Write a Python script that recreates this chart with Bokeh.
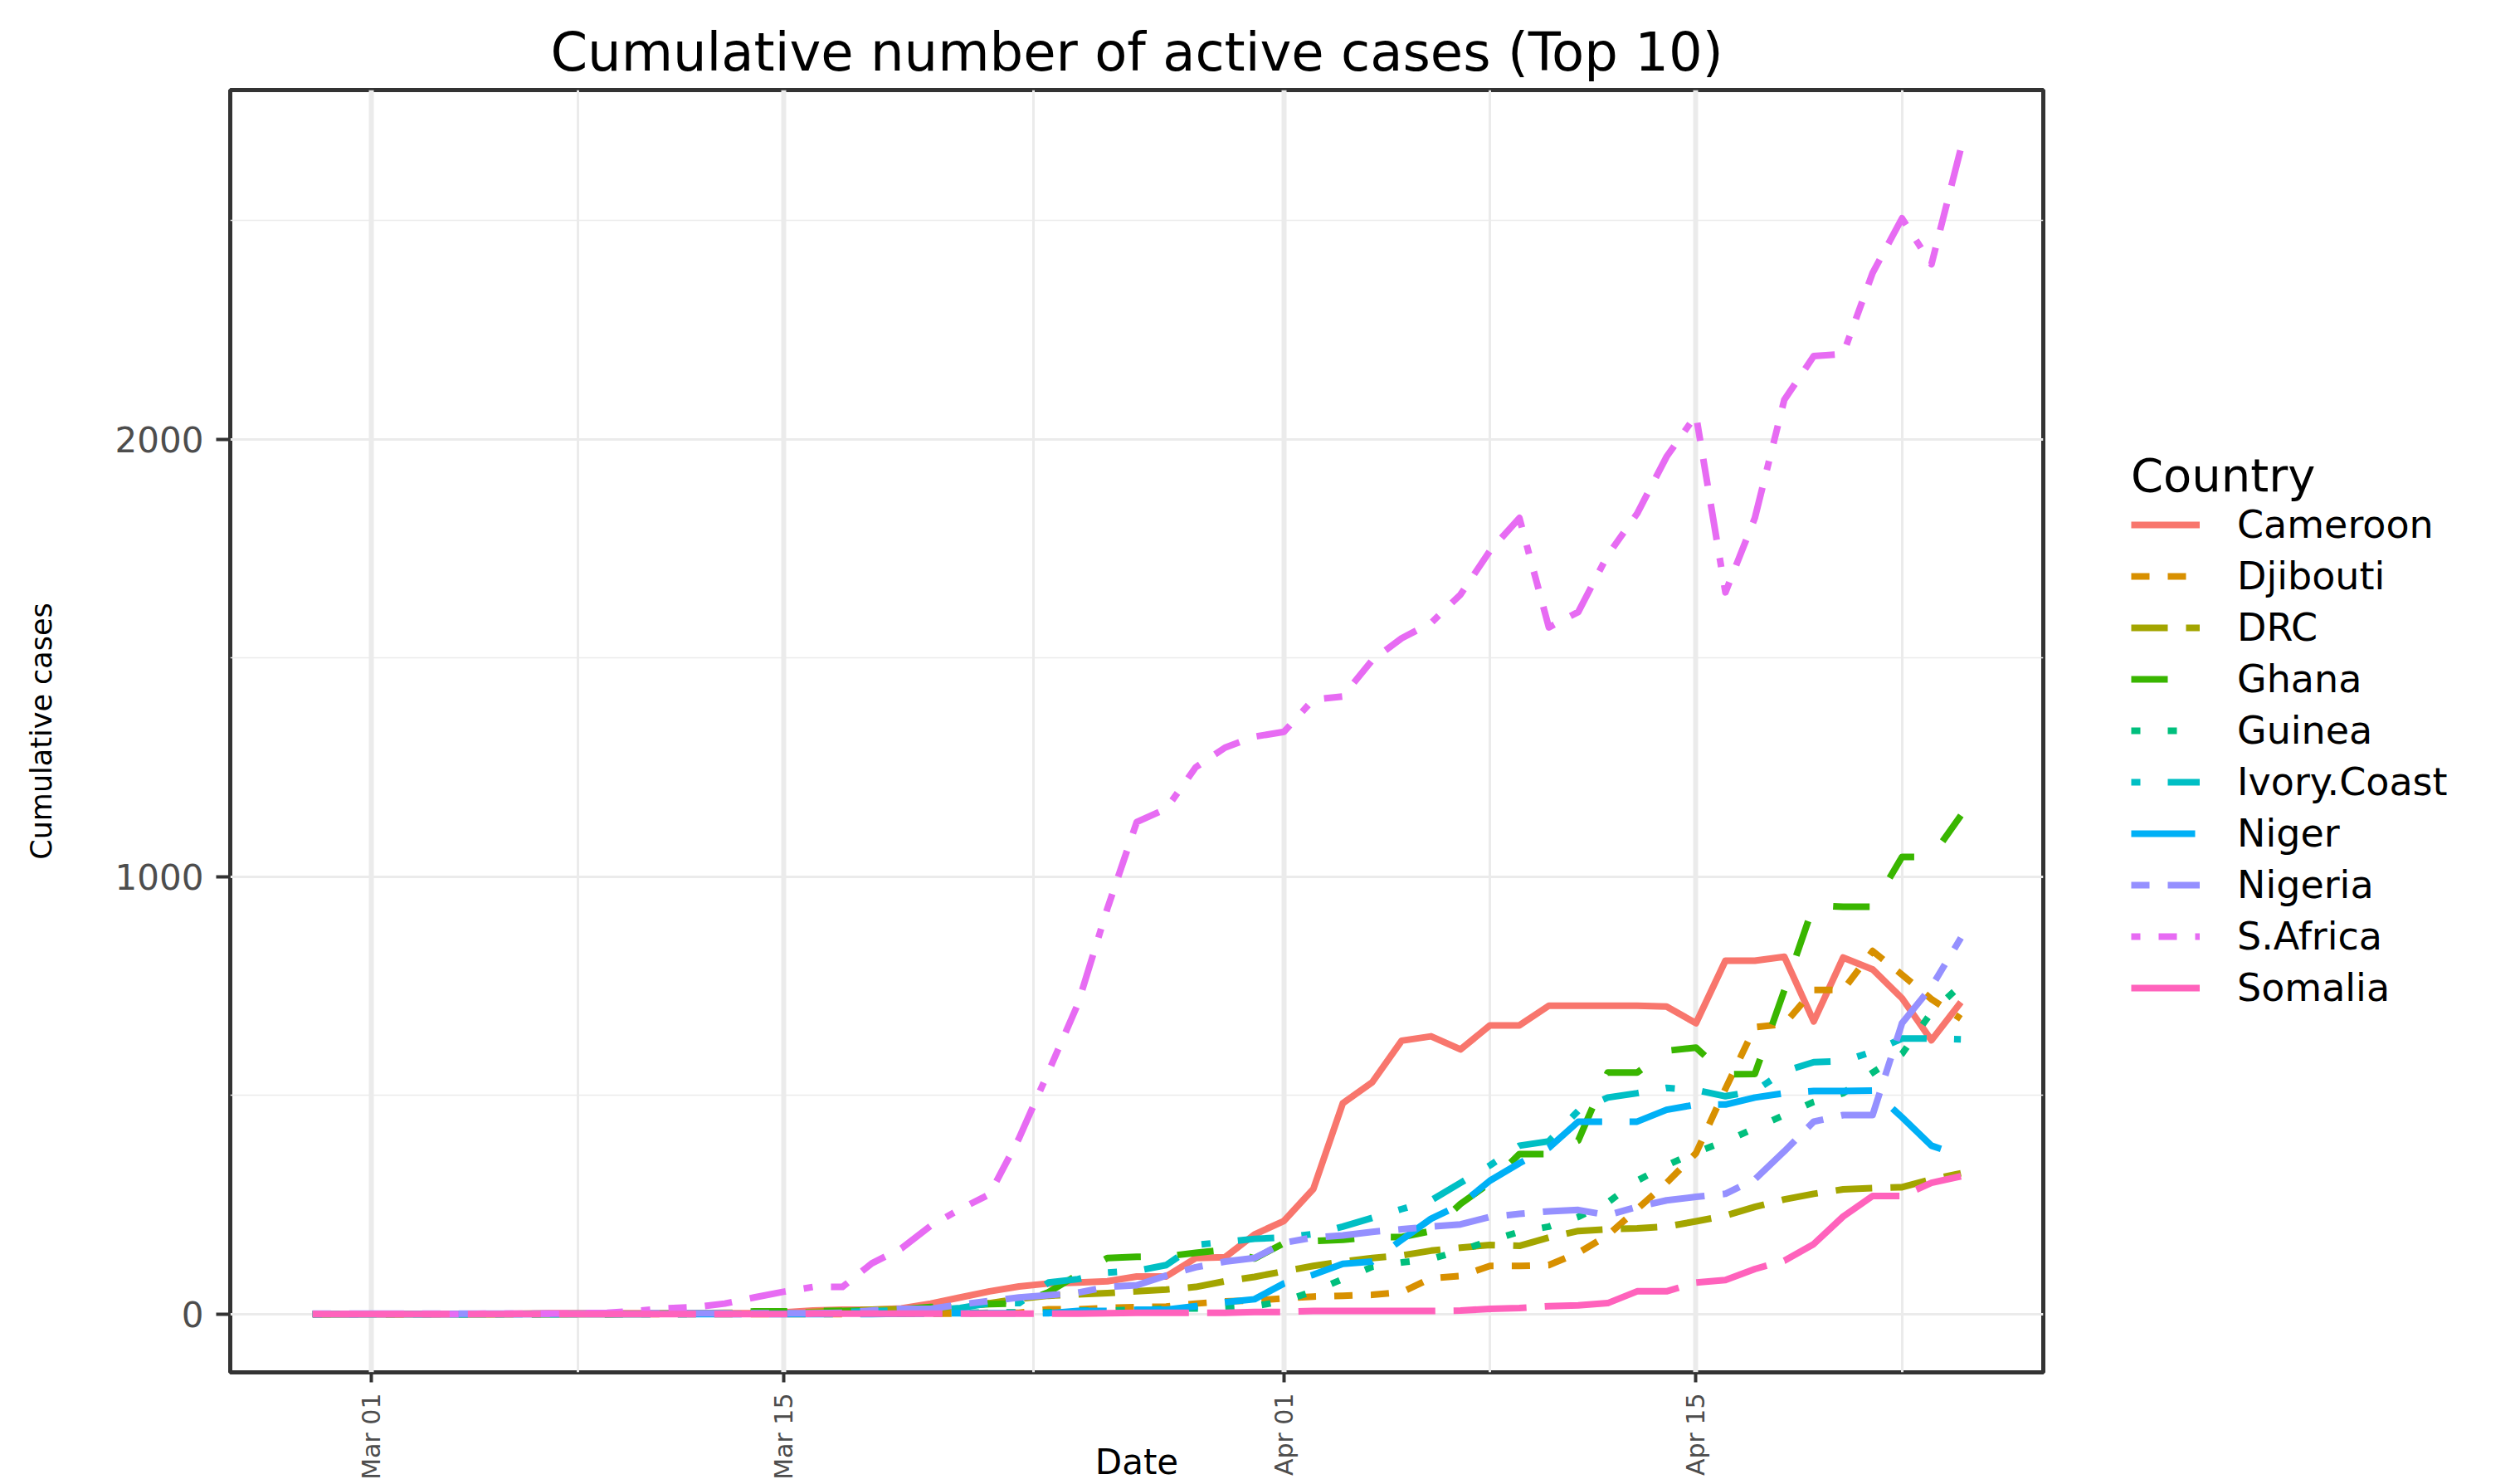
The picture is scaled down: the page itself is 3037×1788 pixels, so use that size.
import math
import pandas as pd
from bokeh.plotting import figure
from bokeh.layouts import row
from bokeh.models import ColumnDataSource, Range1d, FixedTicker, Legend, LegendItem
from bokeh.embed import file_html
from bokeh.resources import INLINE

# ---------------- data ----------------
dates = pd.date_range("2020-02-28", "2020-04-24", freq="D")

countries = ["Cameroon", "Djibouti", "DRC", "Ghana", "Guinea", "Ivory.Coast",
             "Niger", "Nigeria", "S.Africa", "Somalia"]

cameroon = [0, 0, 0, 0, 0, 0, 0, 1, 2, 2, 2, 2, 2, 2, 2, 2,
            4, 8, 10, 10, 13, 24, 38, 52, 63, 70,
            72, 75, 86, 86, 128, 130, 182, 213, 286, 482,
            530, 625, 635, 605, 660, 660, 705, 705, 705, 705,
            703, 665, 808, 808, 817, 669, 815, 788, 722, 626,
            713]
djibouti = [0, 0, 0, 0, 0, 0, 0, 0, 0, 0, 0, 0, 0, 0, 0, 0, 0, 0, 0,
            1, 1, 1, 1, 3, 3, 11, 11, 14, 16,
            17, 24, 29, 31, 36, 40, 42, 44, 50, 82,
            87, 110, 110, 112, 140, 180, 240, 300, 368, 515,
            656, 663, 741, 741, 830, 776, 720, 675]
drc = [0, 0, 0, 0, 0, 0, 0, 0, 0, 0, 0,
       1, 1, 2, 3, 3, 3, 5, 8, 10, 11,
       12, 18, 25, 35, 42, 45, 48, 52, 56, 62,
       75, 85, 98, 110, 120, 128, 134, 145, 152, 158,
       156, 175, 190, 194, 196, 200, 212, 225, 245, 262,
       275, 285, 288, 290, 308, 322]
ghana = [0, 0, 0, 0, 0, 0, 0, 0, 0, 0, 0, 0, 0,
         2, 2, 6, 6, 7, 7, 9, 11, 16, 19,
         23, 24, 50, 90, 128, 131, 132, 140, 147, 127,
         162, 167, 170, 176, 176, 190, 252, 300, 366, 366,
         397, 552, 552, 602, 609, 548, 549, 740, 935, 931,
         931, 1045, 1045, 1140]
guinea = [0, 0, 0, 0, 0, 0, 0, 0, 0, 0, 0, 0, 0, 0,
          1, 1, 1, 1, 1, 1, 1, 2, 2, 4,
          4, 4, 8, 8, 10, 12, 13, 14, 18, 30,
          52, 80, 108, 118, 126, 145, 168, 188, 200, 222,
          255, 305, 340, 370, 395, 425, 455, 485, 505, 552,
          595, 690, 752]
ivory_coast = [0, 0, 0, 0, 0, 0, 0, 0, 0, 0, 0, 0,
               1, 1, 1, 1, 1, 1, 5, 6, 9, 9,
               14, 25, 25, 72, 80, 95, 99, 112, 158, 165,
               172, 175, 183, 200, 220, 240, 260, 300, 340, 385,
               395, 465, 495, 505, 517, 512, 498, 510, 555, 576,
               578, 600, 630, 630, 628]
niger = [0, 0, 0, 0, 0, 0, 0, 0, 0, 0, 0, 0, 0, 0, 0, 0, 0, 0, 0, 0,
         1, 1, 2, 2, 2, 2, 7, 7, 10, 10,
         18, 27, 34, 70, 90, 115, 120, 170, 218, 250,
         305, 345, 380, 440, 440, 440, 467, 479, 479, 495,
         505, 510, 510, 511, 450, 385, 362]
nigeria = [1, 1, 1, 1, 1, 1, 1, 1, 1, 1,
           2, 2, 2, 2, 2, 2, 2, 2,
           3, 8, 12, 12, 22, 30, 38, 43, 49, 62,
           66, 88, 107, 120, 128, 163, 175, 180, 188, 194,
           200, 205, 222, 229, 235, 238, 226, 245, 260, 268,
           275, 308, 372, 440, 455, 455, 665, 748, 860]
s_africa = [0, 0, 0, 0, 0, 0,
            1, 1, 1, 2, 3, 7, 13, 16, 24, 38,
            51, 62, 62, 116, 150, 202, 240, 274, 402, 554,
            709, 927, 1125, 1155, 1250, 1295, 1320, 1331, 1405, 1412,
            1495, 1545, 1580, 1645, 1745, 1820, 1570, 1605, 1735, 1830,
            1960, 2055, 1650, 1820, 2090, 2190, 2195, 2380, 2505, 2400,
            2665]
somalia = [0, 0, 0, 0, 0, 0, 0, 0, 0, 0, 0, 0, 0, 0, 0, 0, 0,
           1, 1, 1, 1, 1, 1, 1, 1, 1, 1,
           2, 3, 3, 3, 3, 5, 5, 7, 7, 7,
           7, 7, 8, 12, 14, 18, 20, 25, 52, 52,
           72, 78, 103, 122, 160, 223, 270, 270, 300, 315]

series = [cameroon, djibouti, drc, ghana, guinea, ivory_coast,
          niger, nigeria, s_africa, somalia]

x_tick_dates = ["2020-03-01", "2020-03-15", "2020-04-01", "2020-04-15"]
x_tick_labels = ["Mar 01", "Mar 15", "Apr 01", "Apr 15"]
x_minor_dates = ["2020-03-08", "2020-03-23 12:00", "2020-04-08", "2020-04-22"]
y_ticks = [0, 1000, 2000]
y_minor = [500, 1500, 2500]

# ---------------- styles ----------------
colors = ["#F8766D", "#D89000", "#A3A500", "#39B600", "#00BF7D",
          "#00BFC4", "#00B0F6", "#9590FF", "#E76BF3", "#FF62BC"]
dashes = ["solid", "22 22", "44 22", "44 44", "11 33", "11 33 44 33",
          "77 33", "22 22 66 22", "11 22 22 22 33 22 44 22", "165 22 88 22"]

DAY_MS = 86400000.0


def ms(s):
    return pd.Timestamp(s).value / 1e6


data = {"date": dates}
keys = []
for i, vals in enumerate(series):
    k = "s%d" % i
    keys.append(k)
    data[k] = vals
src = ColumnDataSource(data)

x0 = ms(dates[0]) - 2.8 * DAY_MS
x1 = ms(dates[-1]) + 2.8 * DAY_MS
ymax = max(max(s) for s in series)
pad = 0.05 * ymax

MAIN_W = 2472
p = figure(width=MAIN_W, height=1788,
           x_range=Range1d(x0, x1), y_range=Range1d(-pad, ymax + pad),
           output_backend="svg", toolbar_location=None,
           min_border_left=277, min_border_right=10,
           min_border_top=108, min_border_bottom=0,
           background_fill_color="white", border_fill_color="white")

p.title.text = "Cumulative number of active cases (Top 10)"
p.title.text_font = "DejaVu Sans"
p.title.text_font_size = "64px"
p.title.text_font_style = "normal"
p.title.text_color = "black"
p.title.align = "center"
p.title.standoff = 18

# axes
xt = FixedTicker(ticks=[ms(d) for d in x_tick_dates],
                 minor_ticks=[ms(d) for d in x_minor_dates])
yt = FixedTicker(ticks=y_ticks, minor_ticks=y_minor)
p.xaxis.ticker = xt
p.yaxis.ticker = yt
p.xgrid.ticker = xt
p.ygrid.ticker = yt
p.xaxis.major_label_overrides = {ms(d): lab for d, lab in zip(x_tick_dates, x_tick_labels)}
p.xaxis.major_label_orientation = math.pi / 2

for ax in (p.xaxis[0], p.yaxis[0]):
    ax.axis_line_color = None
    ax.major_tick_line_color = "#333333"
    ax.major_tick_line_width = 4
    ax.major_tick_in = 0
    ax.minor_tick_line_color = None
    ax.major_label_text_color = "#4D4D4D"
    ax.major_label_text_font = "DejaVu Sans"
    ax.axis_label_text_font = "DejaVu Sans"
    ax.axis_label_text_font_style = "normal"
    ax.axis_label_text_color = "black"

p.xaxis.major_tick_out = 12
p.xaxis.major_label_standoff = 13
p.xaxis.major_label_text_font_size = "30px"
p.xaxis.axis_label = "Date"
p.xaxis.axis_label_text_font_size = "42px"
p.xaxis.axis_label_standoff = -49

p.yaxis.major_tick_out = 17
p.yaxis.major_label_standoff = 15
p.yaxis.major_label_text_font_size = "42px"
p.yaxis.axis_label = "Cumulative cases"
p.yaxis.axis_label_text_font_size = "35px"
p.yaxis.axis_label_standoff = 66

# grid & panel border
p.xgrid.grid_line_color = "#EBEBEB"
p.xgrid.grid_line_width = 6
p.xgrid.minor_grid_line_color = "#EBEBEB"
p.xgrid.minor_grid_line_width = 3
p.ygrid.grid_line_color = "#EBEBEB"
p.ygrid.grid_line_width = 3
p.ygrid.minor_grid_line_color = "#EBEBEB"
p.ygrid.minor_grid_line_width = 1.5
p.outline_line_color = "#333333"
p.outline_line_width = 5

# data lines
for k, c, dsh in zip(keys, colors, dashes):
    p.line(x="date", y=k, source=src, line_color=c, line_width=8,
           line_dash=dsh, line_join="round")

# ---------------- legend panel (separate figure on the right) ----------------
# Same series drawn again in a figure whose x window lies after the last date,
# so only their legend keys are visible there.
LEG_W = 3037 - MAIN_W
pl = figure(width=LEG_W, height=1788,
            x_range=Range1d(x1, x1 + DAY_MS), y_range=Range1d(-pad, ymax + pad),
            output_backend="svg", toolbar_location=None,
            x_axis_location=None, y_axis_location=None,
            min_border=0, outline_line_color=None,
            background_fill_color="white", border_fill_color="white")
pl.xgrid.visible = False
pl.ygrid.visible = False

items = []
for name, k, c, dsh in zip(countries, keys, colors, dashes):
    r = pl.line(x="date", y=k, source=src, line_color=c, line_width=8,
                line_dash=dsh, line_join="round")
    items.append(LegendItem(label=name, renderers=[r]))

legend = Legend(items=items, title="Country", location=(96, 436))
legend.title_text_font = "DejaVu Sans"
legend.title_text_font_size = "56px"
legend.title_text_font_style = "normal"
legend.title_text_color = "black"
legend.title_standoff = 0
legend.label_text_font = "DejaVu Sans"
legend.label_text_font_size = "46px"
legend.label_text_color = "black"
legend.glyph_width = 83
legend.glyph_height = 54
legend.label_height = 54
legend.label_standoff = 45
legend.spacing = 8
legend.padding = 0
legend.margin = 0
legend.border_line_color = None
legend.background_fill_alpha = 0
pl.add_layout(legend)

layout = row(p, pl)
open("out.html", "w").write(file_html(layout, INLINE))
